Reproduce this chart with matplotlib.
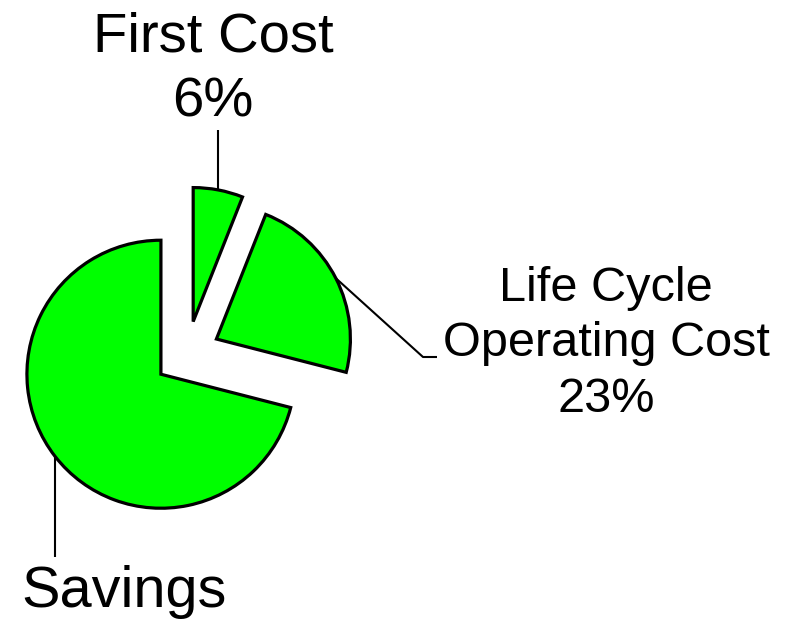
import math
import matplotlib
matplotlib.use("Agg")
import matplotlib.pyplot as plt

plt.rcParams['font.family'] = ['Liberation Sans', 'DejaVu Sans']

categories = ["First Cost", "Life Cycle\nOperating Cost", "Savings"]
shares = [6, 23, 71]
pct_labels = ["6%", "23%", ""]

W, H = 786, 622
fig = plt.figure(figsize=(W / 100, H / 100), dpi=100)
ax = fig.add_axes([0, 0, 1, 1])

center = (187, 268)
radius = 134
explode = [33, 33, 33]

wedges, _ = ax.pie(shares, explode=explode, center=center, radius=radius,
                   startangle=90, counterclock=False,
                   colors=['#00ff00'] * 3,
                   wedgeprops=dict(edgecolor='black', linewidth=2.3),
                   frame=True)
ax.set_xlim(0, W)
ax.set_ylim(0, H)
ax.set_aspect('equal')
ax.axis('off')


def arc_point(w):
    mid = math.radians(0.5 * (w.theta1 + w.theta2))
    cx, cy = w.center
    return cx + w.r * math.cos(mid), cy + w.r * math.sin(mid)


line_kw = dict(color='black', linewidth=1.5, solid_capstyle='butt')

# First Cost: straight leader up to its label
x0, y0 = arc_point(wedges[0])
ax.plot([x0, x0], [y0, 492], **line_kw)
ax.text(213, 552, f"{categories[0]}\n{pct_labels[0]}", ha='center', va='center',
        fontsize=40.5, linespacing=1.33)

# Life Cycle Operating Cost: angled leader with a short horizontal tail
x1, y1 = arc_point(wedges[1])
ax.plot([x1, 423, 437], [y1, 265, 265], **line_kw)
ax.text(606, 278, f"{categories[1]}\n{pct_labels[1]}", ha='center', va='center',
        fontsize=35, linespacing=1.3)

# Savings: straight leader down to its label
x2, y2 = arc_point(wedges[2])
ax.plot([x2, x2], [y2, 65], **line_kw)
ax.text(124, 30, categories[2], ha='center', va='center', fontsize=41.5)

fig.savefig("out.png", dpi=100)
